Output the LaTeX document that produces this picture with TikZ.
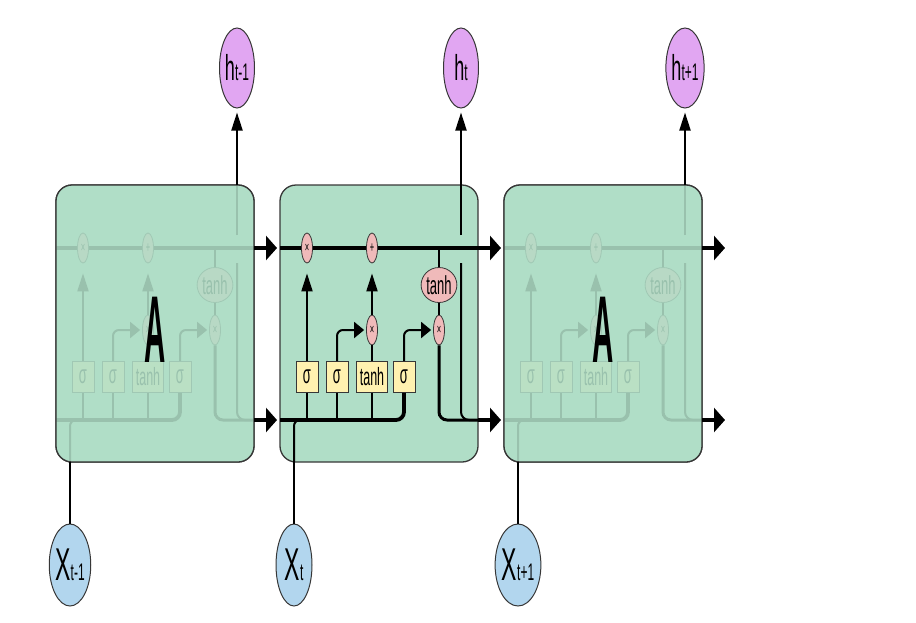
\documentclass[tikz,border=0pt]{standalone}
\usepackage{fontspec}
\newfontfamily\narrowfont[FakeStretch=0.5]{Liberation Sans}
\newfontfamily\cellmarkfont[FakeStretch=0.31]{Liberation Sans}
\usetikzlibrary{arrows.meta,shapes.geometric}

\definecolor{cellgreen}{RGB}{176,222,199}
\definecolor{oppink}{RGB}{240,186,186}
\definecolor{gateyellow}{RGB}{255,241,176}
\definecolor{outviolet}{RGB}{225,166,242}
\definecolor{inblue}{RGB}{178,214,238}
\definecolor{rimgray}{RGB}{55,55,55}

\tikzset{
  cellbox/.style={draw=rimgray, line width=1.3pt, fill=cellgreen, rounded corners=16pt},
  pointop/.style={ellipse, draw=rimgray, line width=0.8pt, fill=oppink, inner sep=0pt,
    minimum width=11pt, minimum height=30pt, font=\narrowfont\fontsize{15}{15}\selectfont},
  tanhop/.style={ellipse, draw=rimgray, line width=0.8pt, fill=oppink, inner sep=0pt,
    minimum width=34pt, minimum height=35pt, font=\narrowfont\fontsize{26}{26}\selectfont},
  gatebox/.style={rectangle, draw=rimgray, line width=0.8pt, fill=gateyellow, inner sep=0pt,
    minimum width=22pt, minimum height=31pt, font=\narrowfont\fontsize{26}{26}\selectfont},
  outnode/.style={ellipse, draw=rimgray, line width=1pt, fill=outviolet, inner sep=0pt,
    minimum width=35pt, minimum height=80pt, font=\narrowfont},
  innode/.style={ellipse, draw=rimgray, line width=1pt, fill=inblue, inner sep=0pt,
    minimum width=36pt, minimum height=82pt, font=\narrowfont},
  thickline/.style={line width=3.8pt},
  thinline/.style={line width=2pt},
  uptip/.style={-{Triangle[length=18pt,width=11pt]}},
  righttip/.style={-{Triangle[length=11pt,width=24pt]}},
  smalltip/.style={-{Triangle[length=10pt,width=16pt]}},
}

\newcommand\biglabel[2]{{\fontsize{#1}{#1}\selectfont #2}}

% one LSTM cell, box corner at (0,0), box 198 x 277
\newcommand\cellinterior{
  \coordinate (cin) at (0,63);
  \coordinate (cout) at (198,63);
  \coordinate (hin) at (0,235);
  \coordinate (hout) at (198,235);
  \coordinate (xbase) at (14,277);
  \coordinate (xjoin) at (40,235);
  \coordinate (hgap) at (181,78);
  \coordinate (hbridge) at (181,50);
  \coordinate (htop) at (181,0);

  % pointwise operations
  \node[pointop] (forget) at (27,63) {×};
  \node[pointop] (update) at (92,63) {+};
  \node[tanhop] (squash) at (159,100) {tanh};
  \node[pointop] (select) at (159,145) {×};
  \node[pointop] (admit) at (92,145) {×};

  % layers
  \node[gatebox] (fgate) at (27,192) {σ};
  \node[gatebox] (igate) at (57,192) {σ};
  \node[gatebox, minimum width=31pt, font=\narrowfont\fontsize{25}{25}\selectfont] (cgate) at (92,192) {tanh};
  \node[gatebox] (ogate) at (124,192) {σ};

  % cell state
  \draw[thickline] (cin) -- (forget) -- (update) -- (cout);
  % hidden state and input
  \draw[thickline, rounded corners=8pt] (hin) -| (ogate);
  \draw[thinline, rounded corners=6pt] (xbase) |- (xjoin);
  \draw[thinline] (fgate) -- (fgate |- hin);
  \draw[thinline] (igate) -- (igate |- hin);
  \draw[thinline] (cgate) -- (cgate |- hin);

  % gates
  \draw[thinline, uptip, shorten >=10pt] (fgate) -- (forget);
  \draw[thinline, smalltip, rounded corners=6pt, shorten >=2pt] (igate) |- (admit);
  \draw[thinline] (cgate) -- (admit);
  \draw[thinline, uptip, shorten >=10pt] (admit) -- (update);
  \draw[thinline, smalltip, rounded corners=6pt, shorten >=2pt] (ogate) |- (select);
  \draw[thinline] (squash |- cin) -- (squash);
  \draw[thinline] (squash) -- (select);

  % output
  \draw[line width=3pt, rounded corners=8pt] (select) |- (hout);
  \draw[thinline, rounded corners=8pt] (hgap) |- (hout);
  \draw[thinline] (hbridge) -- (htop);
}

\begin{document}
\begin{tikzpicture}[x=1pt, y=-1pt]
\useasboundingbox (0,0) rectangle (916,622);

% previous cell (faded)
\begin{scope}[shift={(56,185)}, name prefix=prev-]
  \draw[cellbox] (0,0) rectangle (198,277);
  \cellinterior
  \draw[cellbox, fill opacity=0.87] (0,0) rectangle (198,277);
  \node[font=\cellmarkfont\bfseries] (mark) at (99,145) {\biglabel{95}{A}};
\end{scope}

% current cell
\begin{scope}[shift={(280,185)}, name prefix=cur-]
  \draw[cellbox] (0,0) rectangle (198,277);
  \cellinterior
\end{scope}

% next cell (faded)
\begin{scope}[shift={(504,185)}, name prefix=next-]
  \draw[cellbox] (0,0) rectangle (198,277);
  \cellinterior
  \draw[cellbox, fill opacity=0.87] (0,0) rectangle (198,277);
  \node[font=\cellmarkfont\bfseries] (mark) at (99,145) {\biglabel{95}{A}};
\end{scope}

% outputs
\node[outnode] (hprev) at (237,68) {\biglabel{36}{h}\biglabel{24}{t-1}};
\node[outnode] (hcur) at (461,68) {\biglabel{36}{h}\biglabel{24}{t}};
\node[outnode] (hnext) at (685,68) {\biglabel{36}{h}\biglabel{24}{t+1}};

% inputs
\node[innode] (xprev) at (70,565) {\biglabel{46}{X}\biglabel{24}{t-1}};
\node[innode] (xcur) at (294,565) {\biglabel{46}{X}\biglabel{24}{t}};
\node[innode] (xnext) at (518,565) {\biglabel{46}{X}\biglabel{24}{t+1}};

\coordinate (cellend) at (725,248);
\coordinate (hiddenend) at (725,420);

% links between cells
\draw[thickline, righttip, shorten >=3pt] (prev-cout) -- (cur-cin);
\draw[thickline, righttip, shorten >=3pt] (prev-hout) -- (cur-hin);
\draw[thickline, righttip, shorten >=3pt] (cur-cout) -- (next-cin);
\draw[thickline, righttip, shorten >=3pt] (cur-hout) -- (next-hin);
\draw[thickline, righttip] (next-cout) -- (cellend);
\draw[thickline, righttip] (next-hout) -- (hiddenend);

\draw[thinline, uptip, shorten >=4pt] (prev-htop) -- (hprev);
\draw[thinline, uptip, shorten >=4pt] (cur-htop) -- (hcur);
\draw[thinline, uptip, shorten >=4pt] (next-htop) -- (hnext);

\draw[thinline] (xprev) -- (prev-xbase);
\draw[thinline] (xcur) -- (cur-xbase);
\draw[thinline] (xnext) -- (next-xbase);

\end{tikzpicture}
\end{document}
